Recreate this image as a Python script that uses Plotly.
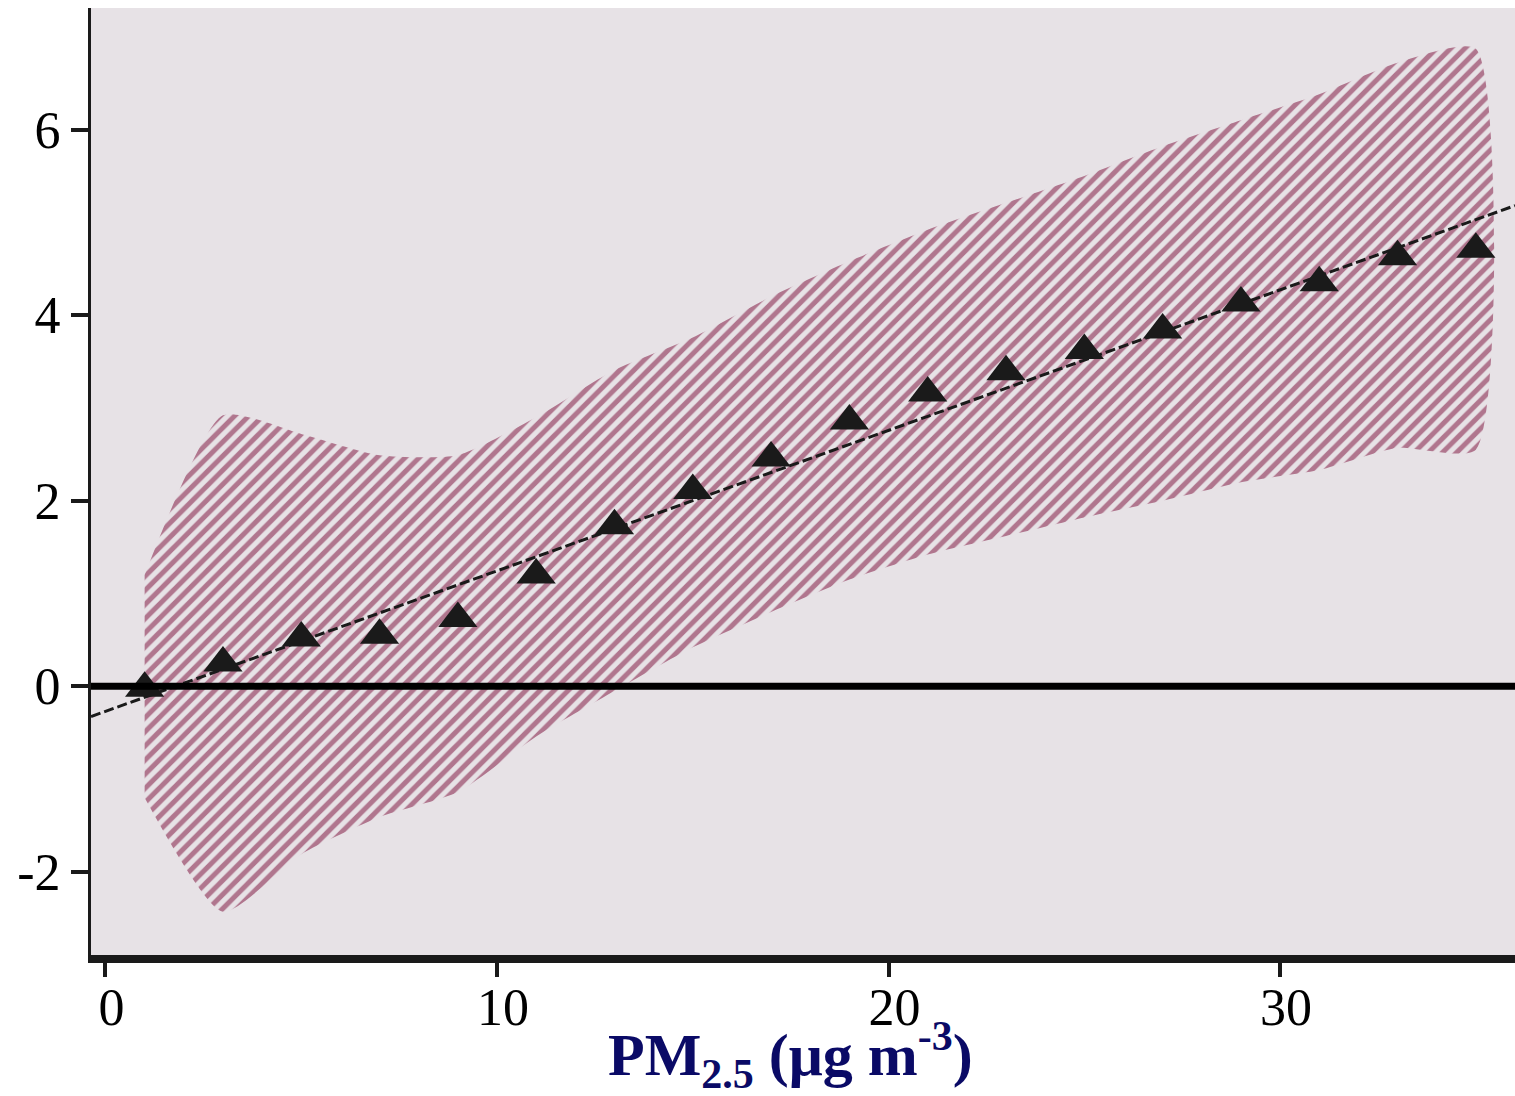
import plotly.graph_objects as go

# ---- data ----
pm_x = [1, 3, 5, 7, 9, 11, 13, 15, 17, 19, 21, 23, 25, 27, 29, 31, 33, 35]
effect = [-0.02, 0.25, 0.52, 0.55, 0.73, 1.20, 1.73, 2.11, 2.46, 2.86, 3.16,
          3.39, 3.62, 3.84, 4.13, 4.35, 4.63, 4.71]
ci_upper = [1.20, 2.92, 2.72, 2.49, 2.49, 2.90, 3.41, 3.76, 4.20, 4.58, 4.92,
            5.21, 5.50, 5.82, 6.10, 6.38, 6.72, 6.87]
ci_lower = [-1.20, -2.43, -1.81, -1.41, -1.14, -0.54, -0.05, 0.42, 0.80, 1.15, 1.42,
            1.62, 1.82, 2.00, 2.20, 2.33, 2.57, 2.55]
fit_intercept = -0.27
fit_slope = 0.1514

x_range = [-0.37, 36.0]
y_range = [-2.896, 7.31]
x_ticks = [0, 10, 20, 30]
y_ticks = [-2, 0, 2, 4, 6]

BAND = "#7A0A36"
DARK = "#1a1a1a"
NAVY = "#0a0a66"
SERIF = "Liberation Serif, Times New Roman, serif"

fig = go.Figure()

# hatched confidence band
fig.add_trace(go.Scatter(
    x=pm_x + pm_x[::-1],
    y=ci_upper + ci_lower[::-1],
    mode="lines",
    line=dict(width=0, shape="spline", smoothing=0.6),
    fill="toself",
    fillcolor="rgba(0,0,0,0)",
    fillpattern=dict(shape="/", fgcolor=BAND, bgcolor="rgba(0,0,0,0)",
                     size=10, solidity=0.5),
    hoverinfo="skip",
    showlegend=False,
))

# dashed linear fit
fit_x = x_range
fit_y = [fit_intercept + fit_slope * v for v in fit_x]
fig.add_trace(go.Scatter(
    x=fit_x, y=fit_y, mode="lines",
    line=dict(color=DARK, width=3, dash="10px,4px"),
    showlegend=False,
))

# triangle markers
fig.add_trace(go.Scatter(
    x=pm_x, y=effect, mode="markers",
    marker=dict(symbol="triangle-up", size=34, color=DARK,
                line=dict(width=0)),
    showlegend=False,
))

# zero reference line
fig.add_shape(type="line", xref="paper", yref="y", x0=0, x1=1, y0=0, y1=0,
              line=dict(color="black", width=7), layer="above")

fig.update_layout(
    width=1515, height=1096,
    margin=dict(l=91, r=0, t=8, b=141),
    paper_bgcolor="white",
    plot_bgcolor="#E7E2E6",
    showlegend=False,
    font=dict(family=SERIF, color="black"),
)

fig.update_xaxes(
    range=x_range, tickvals=x_ticks, ticktext=[str(t) for t in x_ticks],
    showgrid=False, zeroline=False,
    showline=True, linecolor=DARK, linewidth=8,
    ticks="outside", ticklen=14, tickwidth=4, tickcolor=DARK,
    tickfont=dict(family=SERIF, size=52, color="black"),
    ticklabelshift=6, ticklabelstandoff=-14,
)
fig.update_yaxes(
    range=y_range, tickvals=y_ticks, ticktext=[str(t) for t in y_ticks],
    showgrid=False, zeroline=False,
    showline=True, linecolor=DARK, linewidth=3,
    ticks="outside", ticklen=17, tickwidth=4, tickcolor=DARK,
    tickfont=dict(family=SERIF, size=52, color="black"),
)

fig.add_annotation(
    text="<b>PM<sub>2.5</sub> (μg m<sup>-3</sup>)</b>",
    xref="paper", yref="paper", x=0.491, y=-0.1525,
    xanchor="center", yanchor="bottom", showarrow=False,
    font=dict(family=SERIF, size=60, color=NAVY),
)

fig.write_html("out.html")
